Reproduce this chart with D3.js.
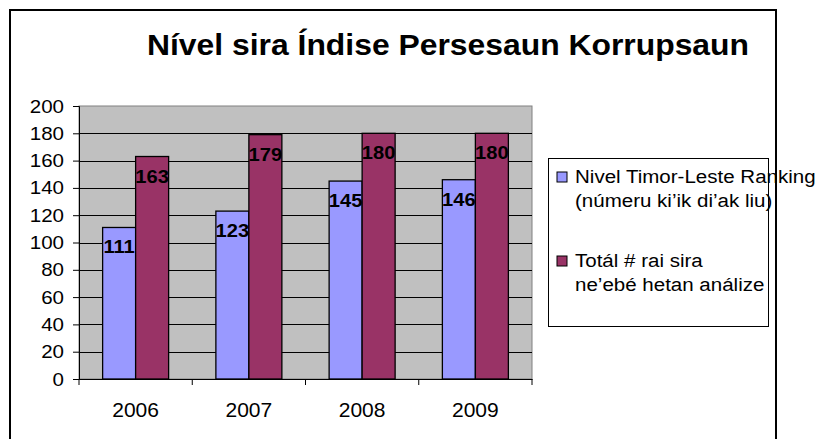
<!DOCTYPE html>
<html>
<head>
<meta charset="utf-8">
<script src="https://cdn.jsdelivr.net/npm/d3@7"></script>
<style>
  html, body { margin: 0; padding: 0; background: #fff; }
  svg { display: block; font-family: "Liberation Sans", Arial, sans-serif; }
</style>
</head>
<body>
<svg id="chart" width="826" height="439"></svg>
<script>
// Corruption Perception Index: Timor-Leste rank vs. number of countries assessed
const years = ["2006", "2007", "2008", "2009"];
const rankTimorLeste = [111, 123, 145, 146];
const totalCountries = [163, 179, 180, 180];
const seriesNames = [
  ["Nivel Timor-Leste Ranking", "(númeru ki’ik di’ak liu)"],
  ["Totál # rai sira", "ne’ebé hetan análize"]
];
const seriesColors = ["#9999FF", "#993366"];
const yTicks = [0, 20, 40, 60, 80, 100, 120, 140, 160, 180, 200];
const titleText = "Nível sira Índise Persesaun Korrupsaun";

const svg = d3.select("#chart");

// Widen text horizontally by a factor, keeping its anchor
function stretch(sel, factor) {
  sel.each(function () {
    const w = this.getComputedTextLength();
    d3.select(this).attr("textLength", w * factor).attr("lengthAdjust", "spacingAndGlyphs");
  });
}

// Outer chart frame
svg.append("rect")
  .attr("x", 10).attr("y", 10)
  .attr("width", 766).attr("height", 440)
  .attr("fill", "#fff").attr("stroke", "#000").attr("stroke-width", 2);

// Title
svg.append("text")
  .attr("x", 448).attr("y", 54.5)
  .attr("text-anchor", "middle")
  .attr("font-weight", "bold")
  .attr("font-size", 29)
  .attr("fill", "#000")
  .attr("textLength", 602).attr("lengthAdjust", "spacingAndGlyphs")
  .text(titleText);

const plot = { left: 79, top: 106, right: 532, bottom: 379 };

const x0 = d3.scaleBand()
  .domain(years)
  .range([plot.left, plot.right])
  .paddingInner(0).paddingOuter(0);

const x1 = d3.scaleBand()
  .domain([0, 1])
  .range([0, x0.bandwidth()])
  .paddingOuter(0.716).paddingInner(0);

const y = d3.scaleLinear().domain([0, 200]).range([plot.bottom, plot.top]);

// Plot area background
svg.append("rect")
  .attr("x", plot.left).attr("y", plot.top)
  .attr("width", plot.right - plot.left).attr("height", plot.bottom - plot.top)
  .attr("fill", "#C0C0C0").attr("stroke", "#808080").attr("stroke-width", 1);

// Gridlines
svg.append("g")
  .selectAll("line")
  .data(yTicks.filter(t => t > 0 && t < 200))
  .join("line")
  .attr("x1", plot.left).attr("x2", plot.right)
  .attr("y1", d => Math.round(y(d)) + 0.5).attr("y2", d => Math.round(y(d)) + 0.5)
  .attr("stroke", "#000").attr("stroke-width", 1);

// Bars
const groups = svg.append("g")
  .selectAll("g")
  .data(years)
  .join("g")
  .attr("transform", d => `translate(${x0(d)},0)`);

const seriesData = [rankTimorLeste, totalCountries];

groups.selectAll("rect")
  .data((d, i) => seriesData.map((s, k) => ({ k, v: s[i] })))
  .join("rect")
  .attr("x", d => x1(d.k))
  .attr("y", d => y(d.v))
  .attr("width", x1.bandwidth())
  .attr("height", d => y(0) - y(d.v))
  .attr("fill", d => seriesColors[d.k])
  .attr("stroke", "#000").attr("stroke-width", 1.3);

// Value labels inside bar tops
groups.selectAll("text")
  .data((d, i) => seriesData.map((s, k) => ({ k, v: s[i] })))
  .join("text")
  .attr("x", d => x1(d.k) + x1.bandwidth() / 2)
  .attr("y", d => y(d.v) + 26)
  .attr("text-anchor", "middle")
  .attr("font-weight", "bold")
  .attr("font-size", 17.5)
  .attr("fill", "#000")
  .text(d => d.v)
  .call(stretch, 1.15);

// Y axis
const yAxis = svg.append("g")
  .attr("transform", `translate(${plot.left},0)`)
  .call(d3.axisLeft(y).tickValues(yTicks).tickSize(6).tickPadding(9));
yAxis.select(".domain").attr("stroke", "#000").attr("stroke-width", 1);
yAxis.selectAll(".tick line").attr("stroke", "#000");
yAxis.selectAll("text")
  .attr("font-size", 19)
  .attr("font-family", "Liberation Sans, Arial, sans-serif")
  .attr("fill", "#000")
  .call(stretch, 1.08);

// X axis
const xAxis = svg.append("g")
  .attr("transform", `translate(0,${plot.bottom})`)
  .call(d3.axisBottom(x0).tickSize(0).tickPadding(24));
xAxis.select(".domain").attr("stroke", "#000").attr("stroke-width", 1);
xAxis.selectAll("text")
  .attr("font-size", 20)
  .attr("font-family", "Liberation Sans, Arial, sans-serif")
  .attr("fill", "#000")
  .call(stretch, 1.05);

// Category separator ticks
svg.append("g")
  .selectAll("line")
  .data(years.concat(["end"]))
  .join("line")
  .attr("x1", (d, i) => i < years.length ? x0(d) : plot.right)
  .attr("x2", (d, i) => i < years.length ? x0(d) : plot.right)
  .attr("y1", plot.bottom).attr("y2", plot.bottom + 6)
  .attr("stroke", "#000");

// Legend
const legend = svg.append("g");
legend.append("rect")
  .attr("x", 548.5).attr("y", 158.5)
  .attr("width", 220).attr("height", 168)
  .attr("fill", "#fff").attr("stroke", "#000").attr("stroke-width", 1);

const legendRows = [183, 267];
seriesNames.forEach((lines, k) => {
  legend.append("rect")
    .attr("x", 557).attr("y", legendRows[k] - 11)
    .attr("width", 10).attr("height", 10)
    .attr("fill", seriesColors[k]).attr("stroke", "#000").attr("stroke-width", 1);
  lines.forEach((ln, j) => {
    legend.append("text")
      .attr("x", 575).attr("y", legendRows[k] + j * 24)
      .attr("font-size", 18).attr("fill", "#000")
      .text(ln)
      .call(stretch, 1.14);
  });
});

// Frame's right edge drawn over the legend text
svg.append("line")
  .attr("x1", 776).attr("x2", 776).attr("y1", 9).attr("y2", 439)
  .attr("stroke", "#000").attr("stroke-width", 2);
</script>
</body>
</html>
